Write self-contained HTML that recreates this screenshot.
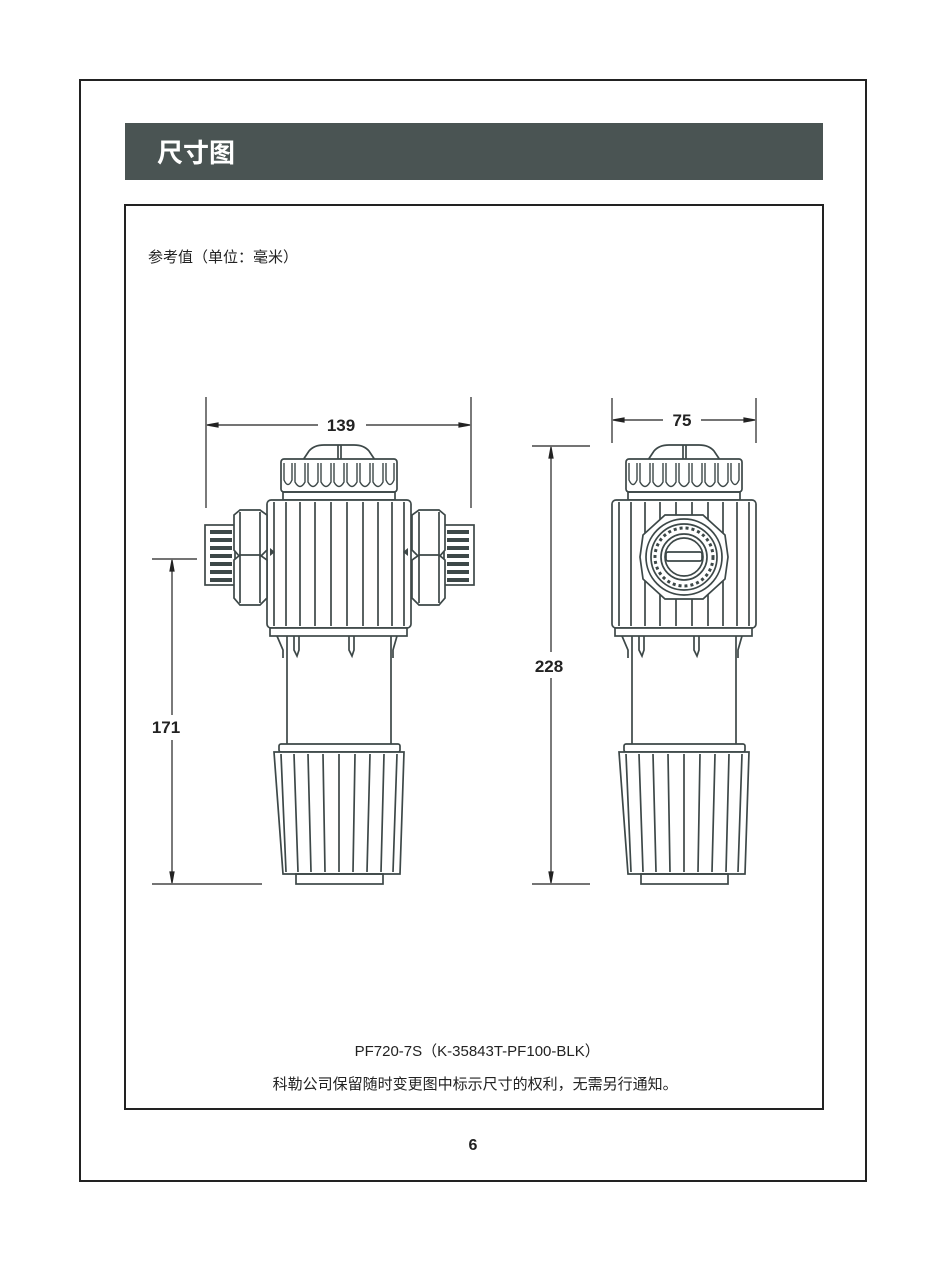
<!DOCTYPE html>
<html><head><meta charset="utf-8"><style>
html,body{margin:0;padding:0;background:#fff;}
body{width:946px;height:1261px;position:relative;overflow:hidden;font-family:"Liberation Sans","Noto Sans CJK SC",sans-serif;}
.t{position:absolute;color:#222;white-space:nowrap;}
</style></head><body>
<div style="position:absolute;left:79px;top:79px;width:784px;height:1099px;border:2px solid #222;"></div>
<div style="position:absolute;left:125px;top:123px;width:698px;height:57px;background:#4a5453;"></div>
<div class="t" style="left:157px;top:133px;font-size:26px;font-weight:bold;color:#fff;font-family:'Noto Sans CJK SC',sans-serif;">尺寸图</div>
<div style="position:absolute;left:124px;top:204px;width:696px;height:902px;border:2px solid #222;"></div>
<div class="t" style="left:148px;top:246px;font-size:15px;">参考值（单位：毫米）</div>
<div class="t" style="left:0;width:946px;text-align:center;top:1040px;font-size:15px;">&nbsp;&nbsp;PF720-7S（K-35843T-PF100-BLK）</div>
<div class="t" style="left:0;width:946px;text-align:center;top:1073px;font-size:15px;">&nbsp;科勒公司保留随时变更图中标示尺寸的权利，无需另行通知。</div>
<div class="t" style="left:0;width:946px;text-align:center;top:1137px;font-size:16px;font-weight:bold;">6</div>

<svg width="946" height="1261" style="position:absolute;left:0;top:0" xmlns="http://www.w3.org/2000/svg">
<defs>
<g id="f" fill="none" stroke="#3d4848" stroke-width="1.7">
 <path d="M-36 460 L-30 451 Q-25 445 -15 445 L15 445 Q25 445 30 451 L36 460" fill="#fff"/>
 <path d="M-1 445 V460 M2 445 V460"/>
 <rect x="-58" y="459" width="116" height="33" rx="3" fill="#fff"/>
 <path d="M-55 463 V480 Q-51 489 -47 480 V463 M-44 463 V482 Q-39 491 -34 482 V463 M-31 463 V482 Q-26 491 -21 482 V463 M-18 463 V482 Q-13 491 -8 482 V463 M-5 463 V482 Q0 491 5 482 V463 M8 463 V482 Q13 491 18 482 V463 M21 463 V482 Q26 491 31 482 V463 M34 463 V482 Q39 491 44 482 V463 M47 463 V480 Q51 489 55 480 V463" stroke-width="1.4"/>
 <rect x="-56" y="492" width="112" height="8"/>
 <rect x="-72" y="500" width="144" height="128" rx="4" fill="#fff"/>
 <path d="M-65 502 V626 M-53 502 V626 M-39 502 V626 M-24 502 V626 M-8 502 V626 M8 502 V626 M24 502 V626 M39 502 V626 M53 502 V626 M65 502 V626"/>
 <rect x="-69" y="628" width="137" height="8" fill="#fff"/>
 <path d="M-52 636 V745 M52 636 V745"/>
 <path d="M-62 636 L-56 650 V658 M-45 636 V650 L-42 656 L-40 650 V636 M10 636 V650 L13 656 L15 650 V636 M58 636 L54 650 V658"/>
 <rect x="-60" y="744" width="121" height="8" rx="2" fill="#fff"/>
 <path d="M-65 752 L65 752 L61 874 L-56 874 Z" fill="#fff"/>
 <path d="M-58 754 L-53 872 M-45 754 L-41 872 M-31 754 L-28 872 M-16 754 L-14 872 M0 754 V872 M16 754 L14 872 M31 754 L28 872 M45 754 L42 872 M58 754 L54 872"/>
 <rect x="-43" y="874" width="87" height="10"/>
</g>
<g id="nut" fill="#fff" stroke="#3d4848" stroke-width="1.7">
 <rect x="-29" y="525" width="30" height="60"/>
 <path d="M-24 532 H-2 M-24 540 H-2 M-24 548 H-2 M-24 556 H-2 M-24 564 H-2 M-24 572 H-2 M-24 580 H-2" stroke-width="4" stroke="#3d4848"/>
 <path d="M0 515 L6 510 H26 L33 515 V550 L26 557 H6 L0 550 Z"/>
 <path d="M0 560 L6 555 H26 L33 560 V598 L26 605 H6 L0 598 Z"/>
 <path d="M6 512 V603 M26 512 V603"/>
</g>
</defs>
<use href="#f" x="339"/>
<use href="#nut" x="234"/>
<use href="#nut" transform="translate(445 0) scale(-1 1)"/>
<path d="M270 548 L275 552 L270 556 Z M408 548 L403 552 L408 556 Z" fill="#3d4848"/>

<use href="#f" x="684"/>
<g fill="#fff" stroke="#3d4848" stroke-width="1.7">
 <path d="M665 515 H703 L725 535 L728 557 L725 579 L703 599 H665 L643 579 L640 557 L643 535 Z"/>
 <circle cx="684" cy="557" r="38"/>
 <circle cx="684" cy="557" r="33"/>
 <circle cx="684" cy="557" r="29" stroke-dasharray="3 3" stroke-width="3"/>
 <circle cx="684" cy="557" r="23"/>
 <circle cx="684" cy="557" r="19"/>
 <rect x="666" y="552" width="36" height="9" rx="2"/>
</g>

<g stroke="#222" stroke-width="1.2" fill="#222">
 <path d="M206 397 V508 M471 397 V508 M212 425 H318 M366 425 H466"/>
 <path d="M207 425 L218 423 V427 Z M470 425 L459 423 V427 Z"/>
 <path d="M152 559 H197 M152 884 H262 M172 562 V715 M172 740 V881"/>
 <path d="M172 560 L170 571 H174 Z M172 883 L170 872 H174 Z"/>
 <path d="M612 398 V443 M756 398 V443 M617 420 H663 M701 420 H751"/>
 <path d="M613 420 L624 418 V422 Z M755 420 L744 418 V422 Z"/>
 <path d="M532 446 H590 M532 884 H590 M551 449 V652 M551 678 V881"/>
 <path d="M551 447 L549 458 H553 Z M551 883 L549 872 H553 Z"/>
</g>
<g font-family="Liberation Sans,sans-serif" font-size="17" font-weight="bold" fill="#222" text-anchor="middle">
 <text x="341" y="431">139</text>
 <text x="682" y="426">75</text>
 <text x="166" y="733">171</text>
 <text x="549" y="672">228</text>
</g>
</svg>
</body></html>
